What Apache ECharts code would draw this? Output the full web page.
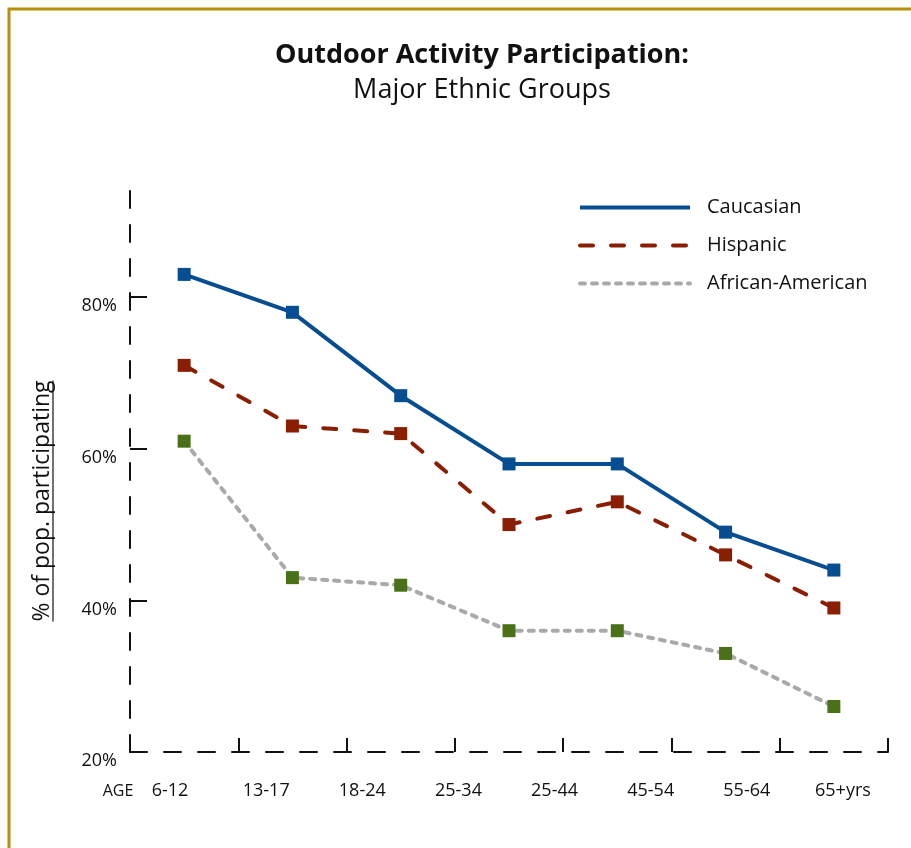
<!DOCTYPE html>
<html>
<head>
<meta charset="utf-8">
<script src="https://cdn.jsdelivr.net/npm/echarts@6/dist/echarts.min.js"></script>
<style>
html,body{margin:0;padding:0;background:#fff;}
#chart{width:911px;height:848px;}
</style>
</head>
<body>
<div id="chart"></div>
<script>
const ageLabels = ['6-12','13-17','18-24','25-34','25-44','45-54','55-64','65+yrs'];
const caucasian = [83, 78, 67, 58, 58, 49, 44];
const hispanic = [71, 63, 62, 50, 53, 46, 39];
const africanAmerican = [61, 43, 42, 36, 36, 33, 26];
const yTicks = [20, 40, 60, 80];

const FONT = '"Open Sans"';
const chart = echarts.init(document.getElementById('chart'));
const pointIdx = caucasian.map((_, i) => String(i));

const yName = '% of pop. participating';
const yNameSize = 23;
const ctx = document.createElement('canvas').getContext('2d');
ctx.font = yNameSize + 'px ' + FONT;
const yNameW = ctx.measureText(yName).width;
const yNameCY = 501;

const option = {
  backgroundColor: '#ffffff',
  animation: false,
  textStyle: { fontFamily: FONT },
  title: [
    { text: 'Outdoor Activity Participation:', left: 477, textAlign: 'center', top: 37,
      textStyle: { fontFamily: FONT, fontSize: 27, fontWeight: 'bold', color: '#111' } },
    { text: 'Major Ethnic Groups', left: 477, textAlign: 'center', top: 72,
      textStyle: { fontFamily: FONT, fontSize: 27, fontWeight: 'normal', color: '#111' } }
  ],
  legend: {
    orient: 'vertical', left: 573, top: 189,
    itemWidth: 110, itemHeight: 14, itemGap: 11,
    itemStyle: { opacity: 0 },
    lineStyle: { width: 4 },
    textStyle: { fontFamily: FONT, fontSize: 20, lineHeight: 27, color: '#111', padding: [0, 0, 0, 12] },
    data: ['Caucasian', 'Hispanic', 'African-American']
  },
  grid: [
    { left: 130, right: 23, top: 191, bottom: 96 },
    { left: 122, right: 20, top: 191, bottom: 96 }
  ],
  xAxis: [
    {
      type: 'category', gridIndex: 0, data: pointIdx, boundaryGap: true,
      axisLine: { show: true, lineStyle: { color: '#111', width: 2, type: [17, 17] } },
      axisTick: { show: true, inside: true, length: 14, interval: 0, lineStyle: { color: '#111', width: 2 } },
      axisLabel: { show: true, interval: 0, formatter: () => '' }, splitLine: { show: false }
    },
    {
      type: 'category', gridIndex: 1, data: ageLabels, boundaryGap: true,
      axisLine: { show: false }, axisTick: { show: false }, splitLine: { show: false },
      axisLabel: { interval: 0, margin: 30, fontFamily: FONT, fontSize: 18, color: '#111' }
    }
  ],
  yAxis: [
    {
      type: 'value', gridIndex: 0, min: 20, max: 94, interval: 20,
      axisLine: { show: true, lineStyle: { color: '#111', width: 2, type: [17, 17] } },
      axisTick: { show: true, inside: true, length: 17, customValues: yTicks, lineStyle: { color: '#111', width: 2 } },
      axisLabel: { customValues: yTicks, formatter: '{value}%', margin: 13, verticalAlign: 'top',
        fontFamily: FONT, fontSize: 18, color: '#111' },
      splitLine: { show: false }
    },
    { type: 'value', gridIndex: 1, min: 20, max: 94, show: false }
  ],
  series: [
    {
      name: 'Caucasian', type: 'line', data: caucasian, xAxisIndex: 0, yAxisIndex: 0,
      symbol: 'rect', symbolSize: 13, z: 4,
      itemStyle: { color: '#064d92' },
      lineStyle: { color: '#064d92', width: 4 }
    },
    {
      name: 'Hispanic', type: 'line', data: hispanic, xAxisIndex: 0, yAxisIndex: 0,
      symbol: 'rect', symbolSize: 13, z: 3,
      itemStyle: { color: '#8a1e02' },
      lineStyle: { color: '#8a1e02', width: 4, type: [13, 18], cap: 'round' }
    },
    {
      name: 'African-American', type: 'line', data: africanAmerican, xAxisIndex: 0, yAxisIndex: 0,
      symbol: 'rect', symbolSize: 13, z: 2,
      itemStyle: { color: '#4b7118' },
      lineStyle: { color: '#a9a9a9', width: 4, type: [5, 7], cap: 'round' }
    }
  ],
  graphic: [
    { type: 'rect', shape: { x: 9, y: 9, width: 1200, height: 1200 },
      style: { fill: 'none', stroke: '#b8900d', lineWidth: 3 }, silent: true },
    { type: 'text', x: 42, y: yNameCY, rotation: Math.PI / 2,
      style: { text: yName, fontFamily: FONT, fontSize: yNameSize, fill: '#111',
        textAlign: 'center', textVerticalAlign: 'middle' } },
    { type: 'line', shape: { x1: 53, y1: yNameCY - yNameW / 2, x2: 53, y2: yNameCY + yNameW / 2 },
      style: { stroke: '#111', lineWidth: 1.2 } },
    { type: 'text', x: 118, y: 791,
      style: { text: 'AGE', fontFamily: FONT, fontSize: 16, fill: '#111',
        textAlign: 'center', textVerticalAlign: 'middle' } }
  ]
};
chart.setOption(option);
</script>
</body>
</html>
